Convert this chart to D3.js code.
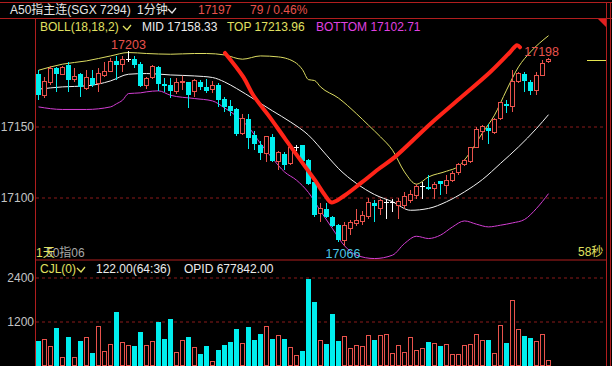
<!DOCTYPE html>
<html>
<head>
<meta charset="utf-8">
<script src="https://cdn.jsdelivr.net/npm/d3@7"></script>
<style>
body { margin: 0; background: #000; }
text { font-family: "Liberation Sans", "Noto Sans CJK SC", sans-serif; font-size: 12px; }
</style>
</head>
<body>
<script>
// candle data, one entry per minute
var opens = [17187,17172,17181,17191.5,17186.5,17193,17183,17187,17176.5,17184,
  17180,17185.7,17189,17196,17194,17197.5,17197.4,17194.3,17178.6,17184.5,
  17192.2,17180,17179,17174.4,17181,17181,17174.4,17181.4,17177.9,17176.3,
  17179.1,17169.7,17164.3,17162,17145,17155.6,17144.3,17137.3,17131,17142.7,
  17125.6,17130.3,17123.9,17135,17136.8,17126.3,17111,17088.7,17092.2,17086.4,
  17080.5,17070,17078.1,17081.7,17082.8,17086.4,17095.8,17092.2,17096.5,17096.5,
  17094.6,17094.6,17098.1,17101.6,17107.5,17107.5,17106.3,17111.7,17108.6,17111.7,
  17117.3,17123.5,17125.1,17135.2,17146.2,17148.6,17145.5,17155.6,17165.7,17163.8,
  17181.4,17187.3,17181.4,17175.6,17186.1,17196];
var highs = [17190,17185,17192.5,17192,17192.5,17195.5,17191,17187.5,17189.5,17189.5,
  17191.5,17195.5,17198.5,17200,17199.5,17203,17200,17195.5,17185,17193.2,
  17192.7,17184.5,17184,17184.5,17185.4,17181.5,17183.8,17183,17183.8,17182.1,
  17180.7,17170.8,17168.5,17163,17159,17159,17146.7,17139.5,17143,17145,
  17132.6,17132.2,17136.8,17136.8,17137.3,17127,17111,17095.8,17095.8,17087,
  17081,17082.8,17084,17091.8,17090.4,17099.3,17098.1,17098.8,17098.8,17098.8,
  17099.3,17104,17105.1,17109.4,17111,17115.7,17111,17111.7,17115.7,17118.8,
  17124.4,17127.4,17135.6,17149.3,17150.9,17151.6,17156.3,17167.4,17168.5,17189.6,
  17188.5,17188.5,17182.6,17188.5,17196.7,17198];
var lows = [17169,17170,17179,17174.5,17186,17174.5,17181.5,17170.5,17176,17178,
  17174,17185,17188.5,17183,17188.5,17195.5,17191.5,17178,17176.7,17183.8,
  17175,17174.4,17170.4,17172.7,17175.6,17162.7,17171,17175.6,17173.9,17173.3,
  17163.8,17160.3,17157.3,17143,17144.3,17134.5,17133.3,17126.3,17125,17125,
  17119.2,17119.2,17122.7,17132.6,17125,17108.7,17086.4,17082.8,17085.8,17079.3,
  17068.8,17066,17073.5,17080,17080.5,17085.2,17082.8,17087.5,17085.2,17089.9,
  17085,17092.2,17095.8,17098.6,17098.6,17105.1,17098.6,17101.6,17102.3,17111,
  17115.7,17122,17124.4,17134.6,17140.4,17138,17145,17154.4,17159.6,17160.3,
  17180.7,17174.4,17172,17172,17185.4,17194.5];
var closes = [17172,17182,17191,17187,17191.5,17183,17185,17177.5,17184.5,17179,
  17187,17188.7,17196,17193.4,17197.4,17197.5,17193.4,17178.6,17183.8,17192.2,
  17179.8,17178.6,17175,17181,17182,17172,17182.6,17177.9,17175.1,17178.6,
  17169,17163.8,17161,17144.5,17155.6,17142,17138,17131,17142.7,17125.6,
  17131.7,17123.2,17135,17135,17125.6,17109.8,17088,17092.2,17086.4,17080,
  17070,17080,17082.4,17084,17087.1,17096.5,17094.1,17098.1,17096.5,17096.5,
  17097.4,17100.9,17102.1,17107.5,17107.5,17106.1,17109.4,17109.4,17111.7,17116.9,
  17123.2,17125.8,17135.2,17147.9,17150.2,17147,17154.9,17166.6,17164.3,17181.4,
  17187.3,17182.1,17175.1,17186.1,17194.3,17197];
var volumes = [663,709,526,1017,226,772,226,663,772,336,
  1072,382,581,1454,627,554,526,908,554,663,
  1181,717,1263,363,682,772,499,308,526,117,
  417,554,635,990,608,1044,690,854,1072,717,
  826,717,499,281,390,2354,1726,682,581,1399,
  663,799,463,554,526,826,690,826,854,336,
  554,363,772,417,472,635,608,526,581,308,
  308,554,581,854,690,690,336,1099,608,1781,
  990,799,745,663,854,145];

// BOLL(18,18,2) lines as [bar, price]
var topBand = [[0,17189.6],[4,17193.9],[8,17196.2],[12,17199.7],[15,17202.1],[18,17201.4],
  [22,17200.9],[26,17201.4],[28,17201.4],[31,17200.4],[34,17197.4],[37,17199.7],[40,17199],
  [43,17194.5],[44,17190],[45,17183],[46,17182.4],[47,17177.9],[50,17170],[53,17159],
  [55,17150.9],[57,17142.7],[59,17133.3],[61,17118],[63,17109.4],[65,17114.5],[68,17118.5],
  [70,17122],[72,17132.1],[74,17145.5],[76,17158],[78,17175.6],[80,17192],[82,17202.5],
  [85,17213.96]];
var midBand = [[0,17176.3],[4,17177.9],[8,17178.6],[12,17182.1],[15,17186.8],[18,17187.3],
  [22,17186.3],[26,17185.6],[29,17184.5],[31,17181.4],[33,17176.8],[36,17169],[39,17161],
  [42,17153.2],[45,17143.9],[48,17129.8],[50,17120.4],[53,17109.9],[56,17102.1],[59,17097],
  [62,17091],[65,17092.3],[68,17097],[71,17104],[74,17112.7],[77,17124],[80,17135.6],
  [83,17148.6],[85,17158.33]];
var botBand = [[0,17163.8],[4,17162],[8,17162],[12,17163.8],[13,17166],[14,17168.5],
  [15,17173.2],[17,17173.7],[18,17174.4],[20,17175.1],[22,17172],[26,17169.7],[29,17168],
  [31,17163.1],[33,17157.3],[35,17149.7],[37,17138],[39,17127.5],[41,17118],[43,17112.2],
  [45,17103.5],[47,17090.5],[49,17078],[51,17066],[53,17059.4],[56,17057],[59,17059.4],
  [61,17067.6],[63,17072.7],[65,17071.1],[67,17073.5],[69,17079.3],[71,17083.5],[73,17081.2],
  [75,17079.3],[77,17080.5],[79,17082.1],[81,17084.5],[83,17092.3],[85,17102.71]];

// hand drawn red stroke, as [bar, price]
var markStroke = [[31.08,17201.8],[34.13,17184.9],[35.8,17172],[38.3,17158],[41.08,17141.5],
  [43.87,17125.1],[46.08,17112.2],[47.75,17101.6],[48.87,17096.5],[51.08,17101.6],
  [53.87,17110.6],[56.63,17119.9],[59.42,17128.6],[65.25,17151.6],[70.25,17169.9],
  [75.25,17188.2],[78.58,17202.3],[79.75,17207.3],[80.25,17205.8]];

var priceTicks = [17100, 17150];
var volTicks = [1200, 2400];
var lastPrice = 17197;

var RED = "#e8524c", CYAN = "#00eeee", FRAME = "#b01e1e", GRID = "#8a1a1a";

var svg = d3.select("body").append("svg")
    .attr("width", 612)
    .attr("height", 366)
    .style("background", "#000")
    .style("display", "block");

// Scales
var x = d3.scaleLinear().domain([0, 95]).range([36, 606]);
var y = d3.scaleLinear().domain([17100, 17150]).range([197.5, 126.5]);
var yv = d3.scaleLinear().domain([0, 2400]).range([365.5, 277.5]);

var bars = opens.map(function(o, i) {
  return {i: i, o: o, h: highs[i], l: lows[i], c: closes[i], v: volumes[i]};
});

// grid + axes
function gridAxis(scale, ticks) {
  var g = svg.append("g")
      .attr("transform", "translate(36,0)")
      .call(d3.axisLeft(scale).tickValues(ticks).tickSize(-570).tickPadding(2).tickFormat(d3.format("d")));
  g.select(".domain").remove();
  g.selectAll("line").attr("stroke", GRID).attr("stroke-dasharray", "3,3");
  g.selectAll("text")
      .attr("fill", "#c4c4c4")
      .style("font-size", "12px")
      .style("font-family", "Liberation Sans, sans-serif");
}
gridAxis(y, priceTicks);
gridAxis(yv, volTicks);

// frame
var frame = [[0, 2.5, 612, 2.5], [0, 18.5, 612, 18.5], [35.5, 18.5, 35.5, 366],
  [36, 260, 606, 260], [606.5, 2.5, 606.5, 366], [610.5, 2.5, 610.5, 366]];
svg.append("g").selectAll("line").data(frame).join("line")
    .attr("x1", function(d) { return d[0]; })
    .attr("y1", function(d) { return d[1]; })
    .attr("x2", function(d) { return d[2]; })
    .attr("y2", function(d) { return d[3]; })
    .attr("stroke", FRAME);

svg.append("path")
    .attr("d", "M598,19L606,19L606,27Z")
    .attr("fill", "#e02020");

svg.append("clipPath").attr("id", "main")
  .append("rect").attr("x", 36).attr("y", 19).attr("width", 570).attr("height", 240);

var plot = svg.append("g").attr("clip-path", "url(#main)");

// bands
var bandLine = d3.line()
    .x(function(d) { return x(d[0]) + 2.5; })
    .y(function(d) { return y(d[1]); })
    .curve(d3.curveMonotoneX);

[[topBand, "#dcdc62"], [midBand, "#f2f2f2"], [botBand, "#d23ed2"]].forEach(function(b) {
  plot.append("path")
      .attr("d", bandLine(b[0]))
      .attr("fill", "none")
      .attr("stroke", b[1])
      .attr("stroke-width", 1);
});

// candles
var cg = plot.append("g").attr("shape-rendering", "crispEdges");
bars.forEach(function(d) {
  var cx = x(d.i) + 2.5;
  if (d.o === d.c) {
    cg.append("line").attr("x1", cx).attr("x2", cx).attr("y1", y(d.h)).attr("y2", y(d.l)).attr("stroke", "#fff");
    cg.append("line").attr("x1", x(d.i)).attr("x2", x(d.i) + 5).attr("y1", y(d.c)).attr("y2", y(d.c)).attr("stroke", "#fff");
  } else if (d.c > d.o) {
    cg.append("line").attr("x1", cx).attr("x2", cx).attr("y1", y(d.h)).attr("y2", y(d.c)).attr("stroke", RED);
    cg.append("line").attr("x1", cx).attr("x2", cx).attr("y1", y(d.o)).attr("y2", y(d.l)).attr("stroke", RED);
    cg.append("rect")
        .attr("x", x(d.i) + 0.5).attr("width", 4)
        .attr("y", y(d.c)).attr("height", Math.max(1, y(d.o) - y(d.c)))
        .attr("fill", "#000").attr("stroke", RED);
  } else {
    cg.append("line").attr("x1", cx).attr("x2", cx).attr("y1", y(d.h)).attr("y2", y(d.l)).attr("stroke", CYAN);
    cg.append("rect")
        .attr("x", x(d.i)).attr("width", 5)
        .attr("y", y(d.o)).attr("height", Math.max(1, y(d.c) - y(d.o)))
        .attr("fill", CYAN);
  }
});

// hand drawn mark
plot.append("path")
    .attr("d", d3.line()
      .x(function(d) { return x(d[0]) + 2.5; })
      .y(function(d) { return y(d[1]); })
      .curve(d3.curveCatmullRom)(markStroke))
    .attr("fill", "none")
    .attr("stroke", "#ff2418")
    .attr("stroke-width", 4)
    .attr("stroke-linecap", "round")
    .attr("stroke-linejoin", "round");

// last price marker
svg.append("line")
    .attr("x1", 587).attr("x2", 606)
    .attr("y1", Math.round(y(lastPrice)) + 0.5).attr("y2", Math.round(y(lastPrice)) + 0.5)
    .attr("stroke", "#e6e650");

// max / min labels
var hiBar = bars[d3.maxIndex(bars.slice(0, 40), function(d) { return d.h; })];
var loBar = bars[d3.minIndex(bars, function(d) { return d.l; })];
var endBar = bars[bars.length - 1];
svg.append("text").attr("x", x(hiBar.i) + 2.5).attr("y", y(hiBar.h) - 2)
    .attr("text-anchor", "middle").attr("fill", RED).style("font-size", "12.5px").text(d3.format("d")(hiBar.h));
svg.append("text").attr("x", x(loBar.i) + 1).attr("y", y(loBar.l) + 12.5)
    .attr("text-anchor", "middle").attr("fill", "#4ec6e6").style("font-size", "12.5px").text(d3.format("d")(loBar.l));
svg.append("text").attr("x", x(endBar.i) + 13).attr("y", y(endBar.h) - 2)
    .attr("text-anchor", "end").attr("fill", RED).style("font-size", "12.5px").text(d3.format("d")(endBar.h));

// volume
var vg = svg.append("g").attr("shape-rendering", "crispEdges");
vg.selectAll("rect").data(bars).join("rect")
    .attr("x", function(d) { return d.c >= d.o ? x(d.i) + 0.5 : x(d.i); })
    .attr("width", function(d) { return d.c >= d.o ? 4 : 5; })
    .attr("y", function(d) { return yv(d.v); })
    .attr("height", function(d) { return yv(0) - yv(d.v); })
    .attr("fill", function(d) { return d.c >= d.o ? "#000" : CYAN; })
    .attr("stroke", function(d) { return d.c >= d.o ? RED : "none"; });

// header texts
function label(tx, ty, str, color) {
  svg.append("text").attr("x", tx).attr("y", ty).attr("fill", color).text(str);
}
function chevron(cx, cy, color) {
  svg.append("path")
      .attr("d", "M" + (cx - 4) + "," + (cy - 2) + "L" + cx + "," + (cy + 2) + "L" + (cx + 4) + "," + (cy - 3))
      .attr("fill", "none").attr("stroke", color).attr("stroke-width", 1.3);
}
label(10, 14, "A50指主连(SGX 7294)", "#e6e6e6");
label(137, 14, "1分钟", "#e6e6e6");
chevron(172, 11, "#e6e6e6");
label(198, 14, "17197", RED);
label(250, 14, "79 / 0.46%", RED);

label(40, 31, "BOLL(18,18,2)", "#e0e060");
chevron(127, 28, "#e0e060");
label(142, 31, "MID 17158.33", "#ececec");
label(227, 31, "TOP 17213.96", "#e0e060");
label(316, 31, "BOTTOM 17102.71", "#e040e0");

label(46, 257, "50指06", "#a8a8a8");
label(36, 257, "1天", "#e0e060");
label(578, 256, "58秒", "#e0e060");

label(40, 273, "CJL(0)", "#e0e060");
chevron(81, 270, "#e0e060");
label(96, 273, "122.00(64:36)", "#ececec");
label(184, 273, "OPID 677842.00", "#ececec");
</script>
</body>
</html>
